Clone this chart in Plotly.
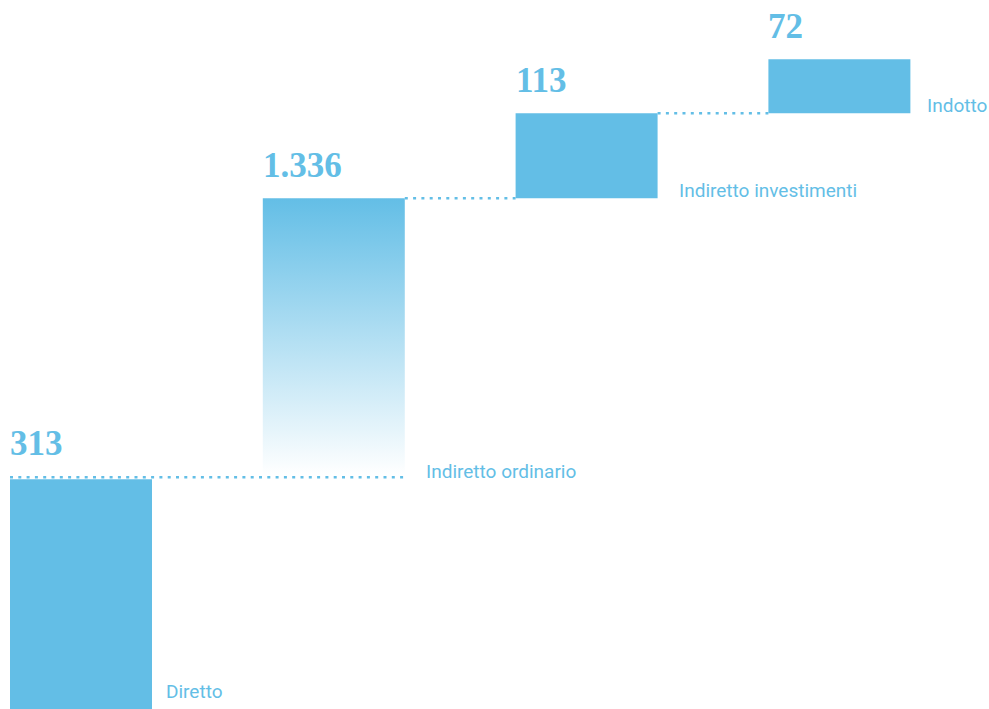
import plotly.graph_objects as go

# Contributions (waterfall steps)
categories = ["Diretto", "Indiretto ordinario", "Indiretto investimenti", "Indotto"]
values = [313, 1336, 113, 72]

BLUE = "rgb(99,190,230)"
BLUE_CLEAR = "rgba(99,190,230,0)"
LABEL_FONT = "Roboto"
VALUE_FONT = "Liberation Serif"

# cumulative bases / tops of each step
bases, tops = [], []
running = 0
for v in values:
    bases.append(running)
    running += v
    tops.append(running)

positions = list(range(len(values)))
BAR_W = 0.5617
half = BAR_W / 2

# Broken value axis: the tall second step is cut and faded at its foot
FIG_W, FIG_H = 989, 709
PX_PER_UNIT = 0.752
BREAK_PX = 479.3          # distance of the cut from the top of the figure
VISIBLE_PX = 281          # visible part of the cut step

lower_range = [tops[0] - (FIG_H - BREAK_PX) / PX_PER_UNIT,
               tops[0] + BREAK_PX / PX_PER_UNIT]
upper_start = tops[1] - VISIBLE_PX / PX_PER_UNIT
upper_range = [upper_start, upper_start + BREAK_PX / PX_PER_UNIT]
upper_domain = [(FIG_H - BREAK_PX) / FIG_H, 1]


def fmt(v):
    return f"{v:,}".replace(",", ".")


fig = go.Figure()

# connector dotted lines between consecutive steps
dots = dict(color=BLUE, width=2.5, dash="3px,5.3px")
fig.add_trace(go.Scatter(
    x=[positions[0] - half, positions[1] + half], y=[tops[0] + 2 / PX_PER_UNIT] * 2,
    mode="lines", line=dots, yaxis="y", hoverinfo="skip", showlegend=False))
fig.add_trace(go.Scatter(
    x=[positions[1] + half, positions[2] - half], y=[tops[1], tops[1]],
    mode="lines", line=dots, yaxis="y2", hoverinfo="skip", showlegend=False))
fig.add_trace(go.Scatter(
    x=[positions[2] + half, positions[3] - half], y=[tops[2], tops[2]],
    mode="lines", line=dots, yaxis="y2", hoverinfo="skip", showlegend=False))

# first step on the lower axis
fig.add_trace(go.Bar(
    x=[positions[0]], y=[values[0]], base=[bases[0]], width=BAR_W,
    marker=dict(color=BLUE, line=dict(width=0)), yaxis="y", showlegend=False))

# second (cut) step with a vertical fade
x0, x1 = positions[1] - half, positions[1] + half
fig.add_trace(go.Scatter(
    x=[x0, x1, x1, x0, x0],
    y=[bases[1], bases[1], tops[1], tops[1], bases[1]],
    mode="none", fill="toself",
    fillgradient=dict(type="vertical",
                      colorscale=[[0, BLUE_CLEAR], [1, BLUE]],
                      start=upper_start + 4 / PX_PER_UNIT, stop=tops[1]),
    yaxis="y2", hoverinfo="skip", showlegend=False))

# remaining steps on the upper axis
fig.add_trace(go.Bar(
    x=positions[2:], y=values[2:], base=bases[2:], width=BAR_W,
    marker=dict(color=BLUE, line=dict(width=0)), yaxis="y2", showlegend=False))

annotations = []
top_axis = ["y", "y2", "y2", "y2"]     # axis holding each step's top
base_axis = ["y", "y", "y2", "y2"]     # axis holding each step's base
name_shift = [14, 21, 21, 17]
for i, (cat, v) in enumerate(zip(categories, values)):
    # value above each step, aligned to its left edge
    annotations.append(dict(
        x=positions[i] - half, y=tops[i], xref="x", yref=top_axis[i],
        text=fmt(v), showarrow=False, xanchor="left", yanchor="bottom",
        xshift=-2, yshift=11 if i else 14,
        font=dict(family=VALUE_FONT, size=35, color=BLUE, weight="bold")))
    # category name to the right of the step, on its base line
    if i == 0:
        annotations.append(dict(
            x=positions[i] + half, y=0, xref="x", yref="paper",
            text=cat, showarrow=False, xanchor="left", yanchor="bottom",
            xshift=name_shift[i] - 2, yshift=4,
            font=dict(family=LABEL_FONT, size=19, color=BLUE)))
    else:
        annotations.append(dict(
            x=positions[i] + half, y=bases[i], xref="x", yref=base_axis[i],
            text=cat, showarrow=False, xanchor="left", yanchor="bottom",
            xshift=name_shift[i] - 2, yshift=-6,
            font=dict(family=LABEL_FONT, size=19, color=BLUE)))

fig.update_layout(
    width=FIG_W, height=FIG_H,
    margin=dict(l=0, r=0, t=0, b=0),
    paper_bgcolor="white", plot_bgcolor="rgba(0,0,0,0)",
    showlegend=False,
    xaxis=dict(range=[-0.3204, 3.5918], domain=[0, 1], visible=False),
    yaxis=dict(range=lower_range, domain=[0, 1], visible=False),
    yaxis2=dict(range=upper_range, domain=upper_domain, anchor="x", visible=False),
    annotations=annotations,
)

fig.write_html("out.html")
